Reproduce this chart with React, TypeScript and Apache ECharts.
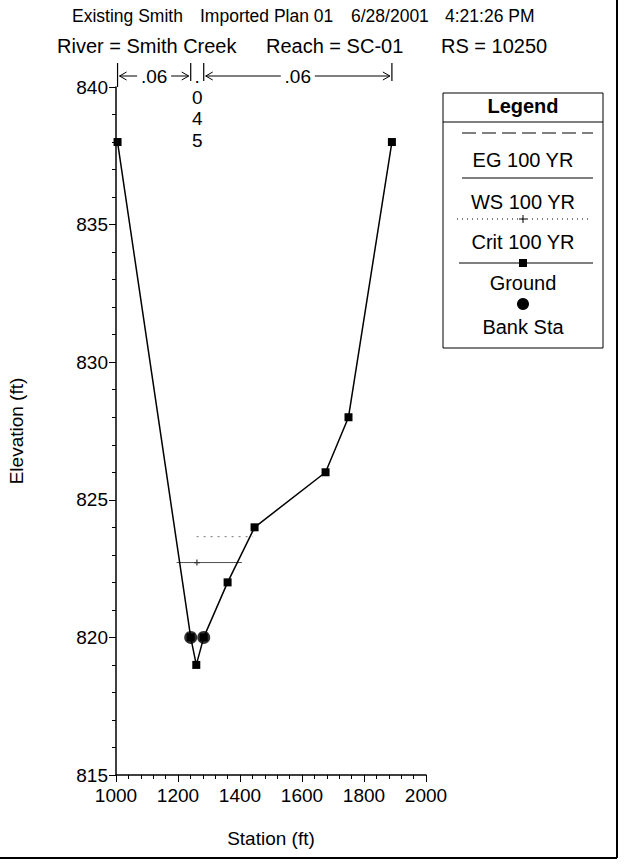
import React, { useEffect, useRef } from "react";
import * as echarts from "echarts";

// ---- data ----
const groundStations = [1005, 1241, 1259, 1283, 1360, 1447, 1676, 1750, 1890];
const groundElevations = [838, 820, 819, 820, 822, 824, 826, 828, 838];
const bankStations = [1241, 1283];
const bankElevations = [820, 820];
const wsStations = [1196, 1406];
const wsElevation = 822.72;
const critStation = 1261;
const critElevation = 822.72;
const egStations = [1260, 1442];
const egElevation = 823.66;
const nStations = [1005, 1241, 1283, 1890];
const nLabels = [".06", ".045", ".06"];
const legendLabels = ["EG 100 YR", "WS 100 YR", "Crit 100 YR", "Ground", "Bank Sta"];
const titleLine1 = ["Existing Smith", "Imported Plan 01", "6/28/2001", "4:21:26 PM"];
const titleLine2 = ["River = Smith Creek", "Reach = SC-01", "RS = 10250"];

const FF = '"Liberation Sans", Arial, sans-serif';

export default function App() {
  const ref = useRef<HTMLDivElement>(null);
  useEffect(() => {
    if (!ref.current) return;
    const chart = echarts.init(ref.current, undefined, { renderer: "svg" });
    const axisCommon = {
      type: "value",
      nameLocation: "middle",
      nameTextStyle: { fontSize: 19, color: "#000", fontFamily: FF },
      axisLine: { show: true, onZero: false, lineStyle: { color: "#000", width: 1.5 } },
      axisTick: { show: true, length: 7, inside: false, lineStyle: { color: "#000", width: 1 } },
      minorTick: { show: true, splitNumber: 5, length: 4, lineStyle: { color: "#000", width: 1 } },
      axisLabel: { fontSize: 19, color: "#000", fontFamily: FF, formatter: (v: number) => String(v) },
      splitLine: { show: false },
      minorSplitLine: { show: false },
    };
    const plusPath = "path://M4,0 L6,0 L6,4 L10,4 L10,6 L6,6 L6,10 L4,10 L4,6 L0,6 L0,4 L4,4 Z";
    chart.setOption({
      animation: false,
      backgroundColor: "#fff",
      grid: { left: 116, right: 208, top: 87, bottom: 90, containLabel: false },
      xAxis: {
        ...axisCommon,
        min: 1000,
        max: 2000,
        interval: 200,
        name: "Station (ft)",
        nameGap: 54,
        axisLabel: { ...axisCommon.axisLabel, margin: 11 },
      },
      yAxis: {
        ...axisCommon,
        min: 815,
        max: 840,
        interval: 5,
        name: "Elevation (ft)",
        nameGap: 90,
        axisLabel: { ...axisCommon.axisLabel, margin: 8 },
      },
      series: [
        {
          name: "EG 100 YR",
          type: "line",
          data: egStations.map((s) => [s, egElevation]),
          symbol: "none",
          lineStyle: { color: "#777", width: 1, type: [2, 5] },
          z: 2,
        },
        {
          name: "WS 100 YR",
          type: "line",
          data: wsStations.map((s) => [s, wsElevation]),
          symbol: "none",
          lineStyle: { color: "#444", width: 1 },
          z: 2,
        },
        {
          name: "Crit 100 YR",
          type: "line",
          data: [
            { value: [wsStations[0], critElevation], symbol: "none" },
            { value: [critStation, critElevation], symbol: plusPath, symbolSize: 6 },
            { value: [wsStations[1], critElevation], symbol: "none" },
          ],
          lineStyle: { color: "#666", width: 1, type: "dotted" },
          itemStyle: { color: "#333" },
          z: 3,
        },
        {
          name: "Ground",
          type: "line",
          data: groundStations.map((s, i) => [s, groundElevations[i]]),
          symbol: "rect",
          symbolSize: 8,
          lineStyle: { color: "#000", width: 1.5 },
          itemStyle: { color: "#000" },
          z: 4,
        },
        {
          name: "Bank Sta",
          type: "scatter",
          data: bankStations.map((s, i) => [s, bankElevations[i]]),
          symbol: "circle",
          symbolSize: 13,
          itemStyle: { color: "#000" },
          z: 5,
        },
      ],
    });

    const px = (s: number, e: number) => chart.convertToPixel({ gridIndex: 0 }, [s, e]) as number[];
    const y840 = px(1000, 840)[1];
    const rowY = y840 - 11;
    const g: any[] = [];
    const txt = (text: string, x: number, y: number, size: number, align = "center", bold = false) => ({
      type: "text",
      style: {
        text,
        x,
        y,
        fill: "#000",
        font: `${bold ? "bold " : ""}${size}px ${FF}`,
        textAlign: align,
        textVerticalAlign: "middle",
      },
      z: 10,
    });
    const line = (x1: number, y1: number, x2: number, y2: number, w = 1, dash?: any, color = "#000") => ({
      type: "line",
      shape: { x1, y1, x2, y2 },
      style: { stroke: color, lineWidth: w, lineDash: dash },
      z: 10,
    });
    const head = (tipX: number, y: number, dir: number) => ({
      type: "polyline",
      shape: { points: [[tipX - dir * 7, y - 4], [tipX, y], [tipX - dir * 7, y + 4]] },
      style: { stroke: "#000", lineWidth: 1, fill: "none" },
      z: 10,
    });

    // page border
    g.push(line(617, 0, 617, 858, 2));
    g.push(line(0, 858, 617, 858, 2));
    // titles
    const t1x = [72, 200, 351, 445];
    titleLine1.forEach((t, i) => g.push(txt(t, t1x[i], 16, 17.5, "left")));
    const t2x = [57, 266, 441];
    titleLine2.forEach((t, i) => g.push(txt(t, t2x[i], 46, 20, "left")));

    // Manning's n annotations
    const nx = nStations.map((s) => px(s, 840)[0]);
    nx.forEach((x, i) => {
      g.push(line(x, y840 - 24, x, i === 0 ? y840 : y840 - 6, 1.2));
    });
    nLabels.forEach((lab, i) => {
      const xa = nx[i];
      const xb = nx[i + 1];
      const mid = (xa + xb) / 2;
      if (xb - xa < 30) {
        const chars = lab.split("");
        g.push(txt(chars[0], mid, rowY, 19));
        chars.slice(1).forEach((c, k) => g.push(txt(c, mid, y840 + 10 + k * 21.5, 19)));
      } else {
        const half = 13;
        g.push(txt(lab, mid, rowY, 19));
        g.push(line(xa + 2, rowY, mid - half - 4, rowY, 1));
        g.push(head(xa + 2, rowY, -1));
        g.push(line(mid + half + 4, rowY, xb - 2, rowY, 1));
        g.push(head(xb - 2, rowY, 1));
      }
    });

    // legend box
    const lx = 443, lw = 160, ly = 93, lh = 255;
    const lc = lx + lw / 2;
    const s1 = 462, s2 = 593;
    g.push({ type: "rect", shape: { x: lx, y: ly, width: lw, height: lh }, style: { fill: "#fff", stroke: "#000", lineWidth: 1 }, z: 9 });
    g.push(txt("Legend", lc, 106, 20, "center", true));
    g.push(line(lx, 122, lx + lw, 122, 1));
    g.push(line(s1, 133, s2, 133, 1, [14, 6]));
    g.push(txt(legendLabels[0], lc, 160, 20));
    g.push(line(s1, 178, s2, 178, 1));
    g.push(txt(legendLabels[1], lc, 202, 20));
    g.push(line(s1 - 5, 219, s2 - 5, 219, 1, [1, 4]));
    g.push(line(lc - 4, 219, lc + 4, 219, 1));
    g.push(line(lc, 215, lc, 223, 1));
    g.push(txt(legendLabels[2], lc, 242, 20));
    g.push(line(s1 - 3, 263, s2, 263, 1.2));
    g.push({ type: "rect", shape: { x: lc - 4, y: 259, width: 8, height: 8 }, style: { fill: "#000" }, z: 10 });
    g.push(txt(legendLabels[3], lc, 283, 20));
    g.push({ type: "circle", shape: { cx: lc, cy: 304, r: 6 }, style: { fill: "#000" }, z: 10 });
    g.push(txt(legendLabels[4], lc, 327, 20));

    chart.setOption({ graphic: g });
    return () => chart.dispose();
  }, []);
  return (
    <div
      ref={ref}
      style={{ position: "absolute", left: 0, top: 0, width: 634, height: 865, background: "#fff" }}
    />
  );
}
